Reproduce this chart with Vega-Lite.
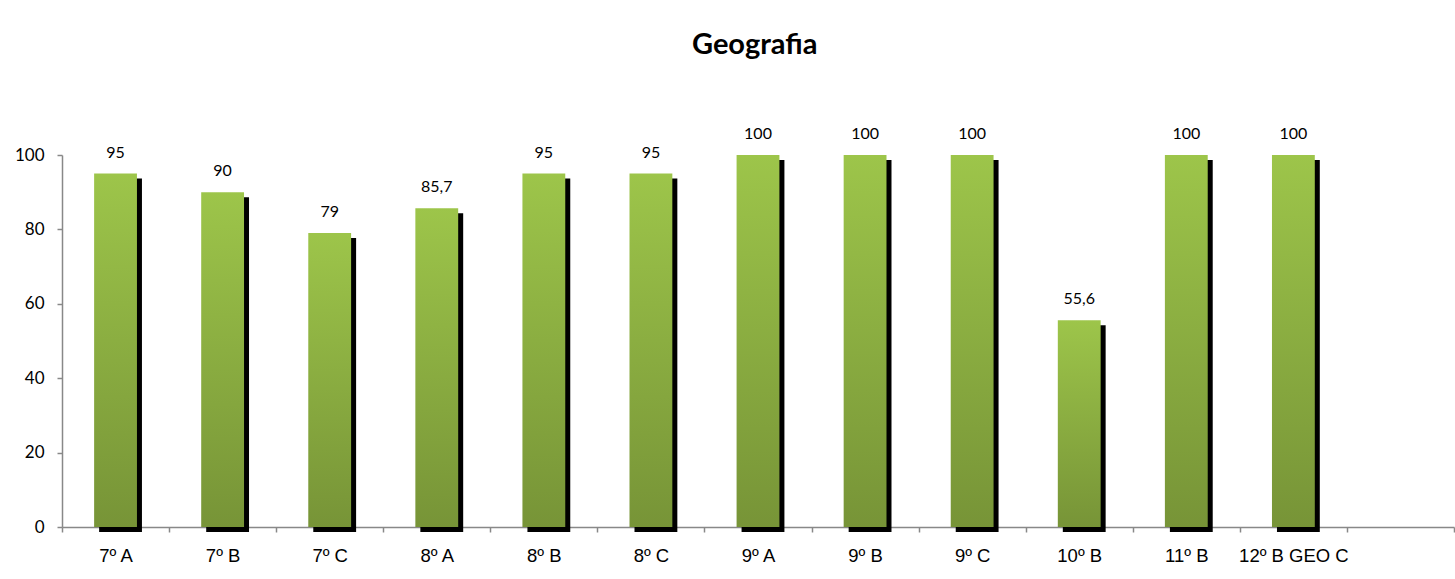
{
  "$schema": "https://vega.github.io/schema/vega-lite/v6.json",
  "autosize": "none",
  "width": 1392,
  "height": 372,
  "padding": {"left": 62, "top": 155, "right": 1, "bottom": 52},
  "background": "white",
  "title": {"text": "Geografia", "font": "Lato", "fontSize": 29, "fontWeight": "bold", "color": "#000000", "anchor": "start", "frame": "group", "dx": 630, "offset": 66},
  "config": {
    "view": {"stroke": null},
    "locale": {"number": {"decimal": ",", "thousands": ".", "grouping": [3], "currency": ["", " €"]}},
    "axis": {"labelFont": "Lato", "labelColor": "#000000", "domainColor": "#888888", "tickColor": "#888888", "grid": false, "title": null}
  },
  "data": {"values": [
    {"turma": "7º A", "valor": 95},
    {"turma": "7º B", "valor": 90},
    {"turma": "7º C", "valor": 79},
    {"turma": "8º A", "valor": 85.7},
    {"turma": "8º B", "valor": 95},
    {"turma": "8º C", "valor": 95},
    {"turma": "9º A", "valor": 100},
    {"turma": "9º B", "valor": 100},
    {"turma": "9º C", "valor": 100},
    {"turma": "10º B", "valor": 55.6},
    {"turma": "11º B", "valor": 100},
    {"turma": "12º B GEO C", "valor": 100}
  ]},
  "encoding": {
    "x": {"field": "turma", "type": "nominal", "sort": null,
      "scale": {"domain": ["7º A","7º B","7º C","8º A","8º B","8º C","9º A","9º B","9º C","10º B","11º B","12º B GEO C"," "], "paddingInner": 0, "paddingOuter": 0},
      "axis": {"labelAngle": 0, "labelFont": "Liberation Sans", "labelFontSize": 18.5, "labelPadding": 14, "tickSize": 5, "tickBand": "extent", "domainWidth": 1.5, "tickWidth": 1.5}},
    "y": {"field": "valor", "type": "quantitative",
      "scale": {"domain": [0, 100], "nice": false},
      "axis": {"values": [0, 20, 40, 60, 80, 100], "labelFontSize": 17, "labelPadding": 13, "tickSize": 5, "domainWidth": 1.5, "tickWidth": 1.5}}
  },
  "layer": [
    {"mark": {"type": "bar", "color": "#000000", "width": {"band": 0.4}, "xOffset": 5, "yOffset": 5, "y2Offset": 3, "clip": false}},
    {"mark": {"type": "bar", "width": {"band": 0.4}, "color": {"gradient": "linear", "x1": 0, "y1": 0, "x2": 0, "y2": 1, "stops": [{"offset": 0, "color": "#9DC54A"}, {"offset": 1, "color": "#779437"}]}}},
    {"mark": {"type": "text", "font": "Lato", "fontSize": 16, "color": "#000000", "baseline": "alphabetic", "dy": -16},
      "encoding": {"text": {"field": "valor", "type": "quantitative", "format": ".1~f"}}}
  ]
}
